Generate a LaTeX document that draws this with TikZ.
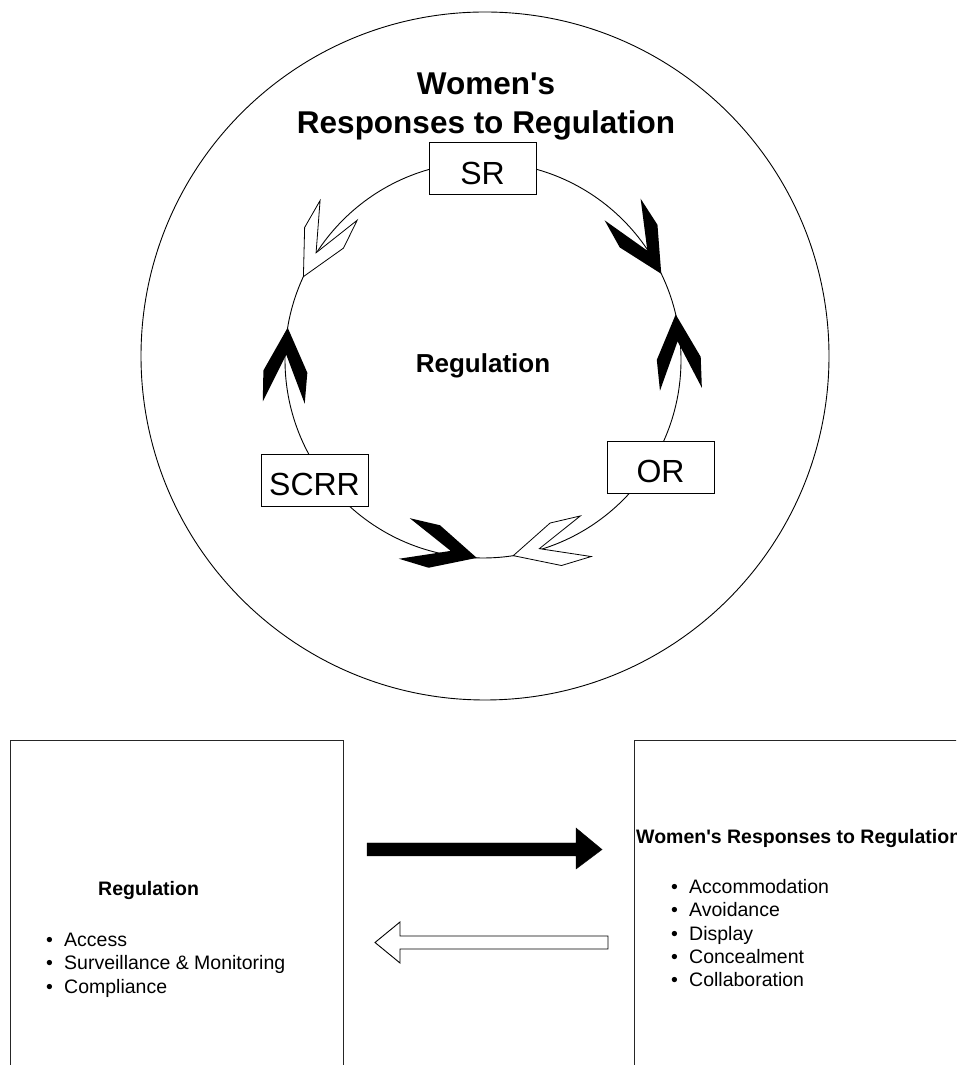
\documentclass[tikz,border=0pt]{standalone}
\usepackage{fontspec}
\setmainfont{Liberation Sans}[Ligatures=TeXOff]
\usepackage{tikz}
\usetikzlibrary{calc}
\newcommand\ttlfont{\fontsize{31.5}{39}\selectfont\bfseries}
\newcommand\midfont{\fontsize{26}{31}\selectfont\bfseries}
\newcommand\hdrfont{\fontsize{19.5}{23}\selectfont\bfseries}
\newcommand\lstfont{\fontsize{19.5}{23.3}\selectfont}
\newcommand\itm[1]{\strut\makebox[18pt][l]{\textbullet}#1}
\tikzset{
    ring/.style={draw=black, line width=0.9pt},
    tag/.style={draw=black, fill=white, line width=1pt, inner sep=0pt,
        minimum width=107pt, minimum height=52pt, text height=31pt,
        font=\fontsize{32}{38}\selectfont},
    panel/.style={draw=black!85, line width=1pt, anchor=north west, inner sep=0pt},
    solidhead/.style={fill=black},
    hollowhead/.style={draw=black, fill=white, line width=0.8pt},
    chevron/.pic={
        \path[pic actions] (0,0) -- (-44,22) -- (-75,21) -- (-27,0)
            -- (-75,-21) -- (-44,-22) -- cycle;
    }
}

\begin{document}
\begin{tikzpicture}[x=1pt,y=1pt]
    \path[use as bounding box, clip] (0,0) rectangle (956,1065);
    % cycle
    \coordinate (outer) at (485,709);
    \coordinate (ctr) at (483,705);
    \draw[ring] (outer) circle[radius=344];
    \draw[ring] (ctr) circle[radius=198];
    \node[anchor=south, inner sep=0pt, align=center, font=\ttlfont] (title)
        at (486,924.4) {Women's\\Responses to Regulation};
    \node[anchor=base, inner sep=0pt, font=\midfont] (core) at (483,692) {Regulation};
    \foreach \ang/\rot/\kind in {25.8/-59/solidhead, 13.3/94/solidhead,
        -91.8/-15/solidhead, -81.2/-165/hollowhead,
        170.6/87/solidhead, 155.1/242/hollowhead}
        \pic[\kind, rotate=\rot] at ($(ctr)+(\ang:198)$) {chevron};
    \node[tag] (sr) at (482.5,896) {SR};
    \node[tag] (or) at (660.5,597.5) {OR};
    \node[tag] (scrr) at (314.5,584.5) {SCRR};
    % panels
    \node[panel, minimum width=333pt, minimum height=360pt] (regpanel) at (10,325) {};
    \node[panel, minimum width=360pt, minimum height=360pt] (resppanel) at (634,325) {};
    \node[anchor=base west, inner sep=0pt, font=\hdrfont] (reghead) at (98,169) {Regulation};
    \node[anchor=north west, inner sep=0pt, align=left, font=\lstfont] (reglist)
        at (46,135.1) {\itm{Access}\\\itm{Surveillance \& Monitoring}\\\itm{Compliance}};
    \node[anchor=base west, inner sep=0pt, font=\hdrfont] (resphead) at (636,221)
        {Women's Responses to Regulation};
    \node[anchor=north west, inner sep=0pt, align=left, font=\lstfont] (resplist)
        at (671,188.1) {\itm{Accommodation}\\\itm{Avoidance}\\\itm{Display}\\
        \itm{Concealment}\\\itm{Collaboration}};
    \draw[fill=black] (367,222) -- (576,222) -- (576,237) -- (602,215.5)
        -- (576,196) -- (576,209) -- (367,209) -- cycle;
    \draw[fill=white, line width=0.9pt] (375,122.5) -- (400,143) -- (400,129)
        -- (608,129) -- (608,116) -- (400,116) -- (400,102) -- cycle;
\end{tikzpicture}
\end{document}
